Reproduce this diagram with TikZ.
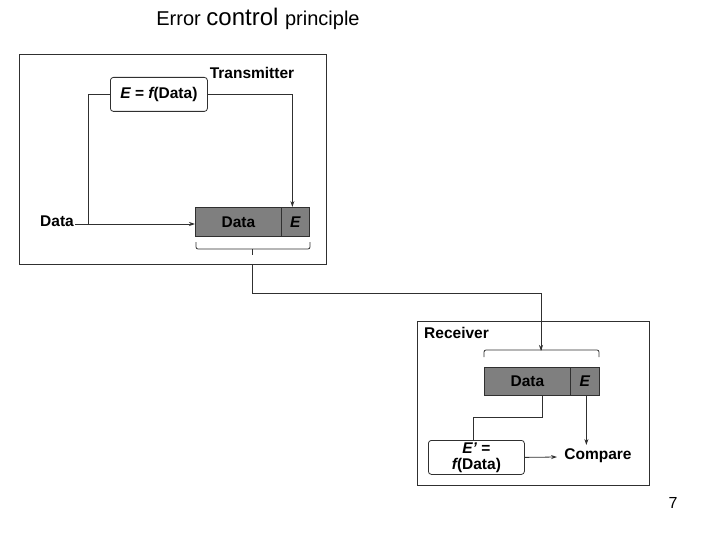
\documentclass[tikz,border=0pt]{standalone}
\usepackage{fontspec}
\setmainfont{Liberation Sans}
\usetikzlibrary{arrows.meta}
\definecolor{ln}{HTML}{303030}
\definecolor{pk}{HTML}{7F7F7F}
\tikzset{
  frame/.style={draw=ln, line width=0.9pt, anchor=north west, inner sep=0pt},
  fbox/.style={draw=ln, line width=0.8pt, rounded corners=3pt, anchor=north west, inner sep=0pt, align=center, font=\fontsize{15.5}{17}\selectfont\bfseries},
  pkt/.style={draw=ln, fill=pk, line width=0.8pt, anchor=north west, inner sep=0pt, text height=11pt, text depth=0pt, font=\fontsize{15.5}{17}\selectfont\bfseries},
  lbl/.style={inner sep=1pt, font=\fontsize{15.5}{17}\selectfont\bfseries},
  conn/.style={draw=ln, line width=0.8pt},
  arr/.style={conn, -{Stealth[length=6pt,width=4pt]}},
  brc/.style={draw=ln, line width=0.8pt, rounded corners=2pt}
}
\begin{document}
\begin{tikzpicture}[x=1pt,y=-1pt]
\useasboundingbox (0,0) rectangle (720,540);
% title
\node (title) at (258,19) {\fontsize{20}{24}\selectfont Error \fontsize{24}{27}\selectfont control \fontsize{20}{24}\selectfont principle};
% transmitter
\node[frame, minimum width=307pt, minimum height=210pt] (tx) at (19,54) {};
\node[lbl] (txl) at (252,73) {Transmitter};
\node[fbox, minimum width=97pt, minimum height=34pt] (ef) at (110,77) {{\itshape E} = {\itshape f}(Data)};
\node[pkt, minimum width=86pt, minimum height=29pt] (tdata) at (195,207) {Data};
\node[pkt, minimum width=28pt, minimum height=29pt] (tE) at (281,207) {\itshape E};
\node[lbl, anchor=east] (din) at (75,221) {Data};
\coordinate (split) at (88,224);
\coordinate (tin) at (195,224);
\draw[arr] (din.east |- split) -- (tin);
\draw[conn] (split) |- (ef.west);
\draw[arr] (ef.east) -| ([xshift=-3pt]tE.north);
% transmitter brace
\draw[brc] (196,242) -- (196,249) -- (310,249) -- (310,242);
\coordinate (tbt) at (252,255);
\draw[conn] (252,249) -- (tbt);
% receiver
\node[frame, minimum width=232pt, minimum height=164pt] (rx) at (417,321) {};
\node[lbl, anchor=west] (rxl) at (423,333) {Receiver};
\draw[brc] (484,357) -- (484,350) -- (599,350) -- (599,357);
\coordinate (rbt) at (541,344);
\draw[conn] (541,350) -- (rbt);
\node[pkt, minimum width=86pt, minimum height=28pt] (rdata) at (484,367) {Data};
\node[pkt, minimum width=29pt, minimum height=28pt] (rE) at (570,367) {\itshape E};
\node[fbox, minimum width=96pt, minimum height=34pt] (ep) at (428,440) {{\itshape E’} =\\[-1pt]{\itshape f}(Data)};
\node[lbl] (cmp) at (598,456) {Compare};
% link transmitter -> receiver
\draw[arr] (tbt |- tx.south) -- ++(0,28) -| ([yshift=-7pt]rbt);
% receiver connections
\draw[conn] ([xshift=15pt]rdata.south) -- ++(0,22) -| ([xshift=-3pt]ep.north);
\draw[arr] ([xshift=1.5pt]rE.south) -- ([xshift=1.5pt]rE.south |- 0,445);
\draw[arr] (ep.east) -- (557,457);
% page number
\node (pg) at (673,503) {\fontsize{16}{18}\selectfont 7};
\end{tikzpicture}
\end{document}
